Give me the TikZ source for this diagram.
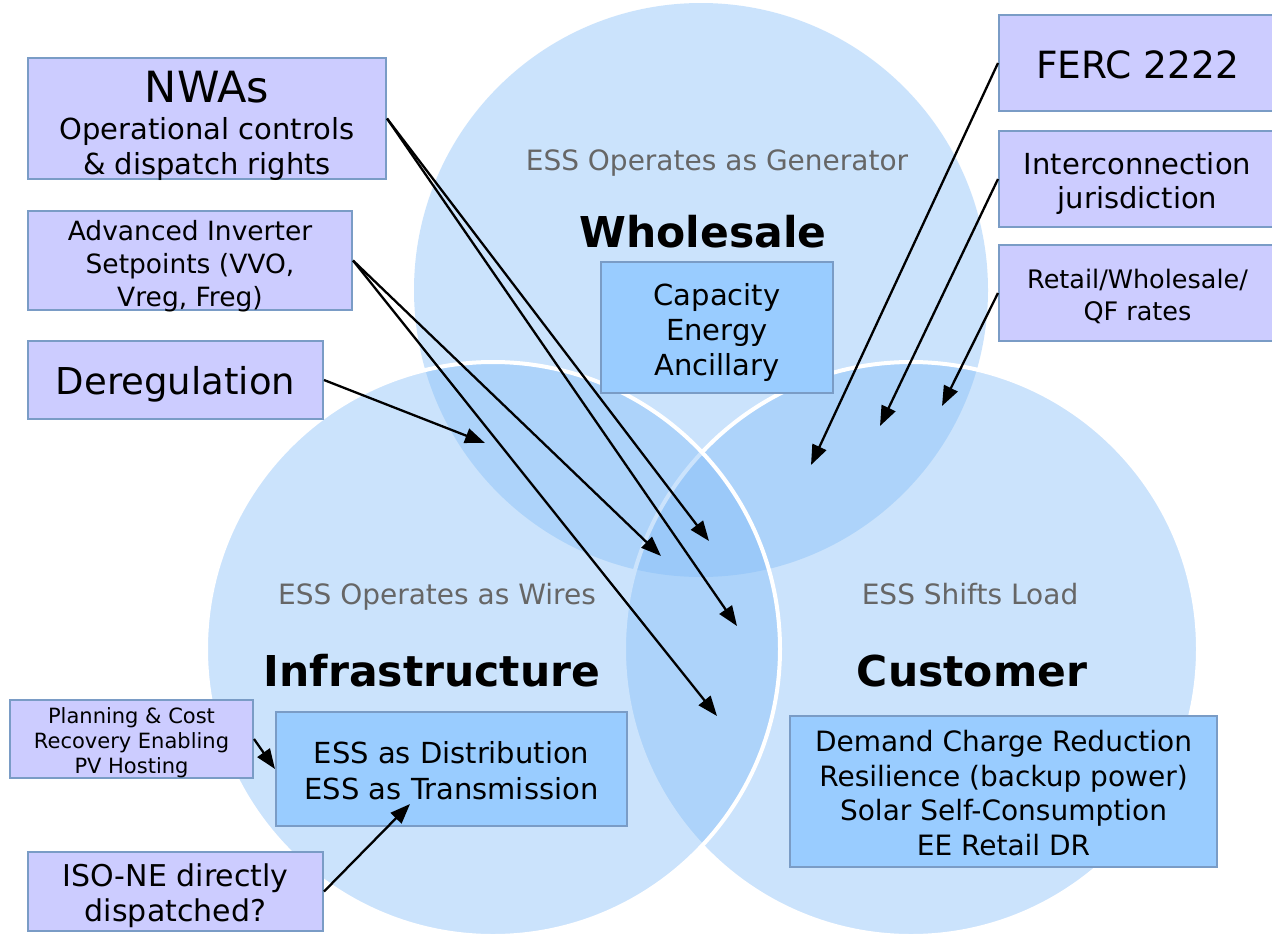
\documentclass[tikz,border=0pt]{standalone}
\usepackage{fontspec}
\setmainfont{DejaVu Sans}
\usetikzlibrary{arrows.meta}
\definecolor{circ}{RGB}{131,189,248}
\definecolor{boxfill}{RGB}{204,204,255}
\definecolor{innerfill}{RGB}{153,204,255}
\definecolor{boxline}{RGB}{122,156,198}
\definecolor{lbl}{RGB}{102,102,102}
\newcommand{\fsz}[2]{\fontsize{#1}{#2}\selectfont}
\newcommand{\tb}[2]{\raisebox{-#1}[\height][\depth]{\begin{tabular}{@{}c@{}}#2\end{tabular}}}
\begin{document}
\begin{tikzpicture}[x=1pt,y=-1pt,
  outerbox/.style={draw=boxline, fill=boxfill, line width=2pt, inner sep=0pt},
  innerbox/.style={draw=boxline, fill=innerfill, line width=2pt, inner sep=0pt},
  arr/.style={line width=2.3pt, -{Triangle[length=20pt,width=15pt]}},
  venn/.style={fill=circ, fill opacity=0.41},
  vennline/.style={draw=white, line width=4pt},
  graylbl/.style={text=lbl, font=\fsz{28}{34}},
  boldlbl/.style={font=\fsz{42.5}{50}\bfseries}
]
\useasboundingbox (0,0) rectangle (1272,938);
\clip (0,0) rectangle (1272,938);
\fill[white] (0,0) rectangle (1272,938);
% circles
\fill[venn] (701,290) circle[radius=287];
\fill[venn] (911,649) circle[radius=287];
\draw[vennline] (911,649) circle[radius=287];
\fill[venn] (493,649) circle[radius=287];
\draw[vennline] (493,649) circle[radius=287];
% labels
\node[graylbl] (gen) at (717,163) {ESS Operates as Generator};
\node[boldlbl] (whole) at (703,232) {Wholesale};
\node[graylbl] (wires) at (437,597) {ESS Operates as Wires};
\node[boldlbl] (infra) at (432,671) {Infrastructure};
\node[graylbl] (shift) at (970,594) {ESS Shifts Load};
\node[boldlbl] (cust) at (972,671) {Customer};
% inner boxes
\node[innerbox, minimum width=232pt, minimum height=131pt, font=\fsz{29}{35}] (cap) at (717,327.5) {\tb{6pt}{Capacity\\Energy\\Ancillary}};
\node[innerbox, minimum width=351pt, minimum height=114pt, font=\fsz{29}{36}] (essd) at (451.5,769) {\tb{5.5pt}{ESS as Distribution\\ESS as Transmission}};
\node[innerbox, minimum width=427pt, minimum height=151pt, font=\fsz{28}{34.7}] (dem) at (1003.5,791.5) {\tb{5pt}{Demand Charge Reduction\\Resilience (backup power)\\Solar Self-Consumption\\EE Retail DR}};
% outer boxes
\node[outerbox, minimum width=358pt, minimum height=121pt, font=\fsz{29}{35}] (nwa) at (207,118.5) {\tb{9.75pt}{{\fsz{43}{45}NWAs}\\[2pt]Operational controls\\\& dispatch rights}};
\node[outerbox, minimum width=324pt, minimum height=97pt, font=\fsz{26.5}{33}] (adv) at (190,260.5) {\tb{6pt}{Advanced Inverter\\Setpoints (VVO,\\Vreg, Freg)}};
\node[outerbox, minimum width=295pt, minimum height=78pt, font=\fsz{37}{42}] (dereg) at (175.5,380) {\tb{6pt}{Deregulation}};
\node[outerbox, minimum width=243pt, minimum height=78pt, font=\fsz{21}{25}] (plan) at (131.5,739) {\tb{4pt}{Planning \& Cost\\Recovery Enabling\\PV Hosting}};
\node[outerbox, minimum width=295pt, minimum height=79pt, font=\fsz{30}{35}] (iso) at (175.5,891.5) {\tb{5pt}{ISO-NE directly\\dispatched?}};
\node[outerbox, minimum width=277pt, minimum height=96pt, font=\fsz{37.5}{42}] (ferc) at (1137.5,63) {\tb{7pt}{FERC 2222}};
\node[outerbox, minimum width=277pt, minimum height=96pt, font=\fsz{29}{34}] (inter) at (1137.5,179) {\tb{6pt}{Interconnection\\jurisdiction}};
\node[outerbox, minimum width=277pt, minimum height=96pt, font=\fsz{25.5}{32}] (retail) at (1137.5,293) {\tb{5.5pt}{Retail/Wholesale/\\QF rates}};
% arrow targets
\coordinate (tNa) at (709,541);
\coordinate (tNb) at (737,626);
\coordinate (tAa) at (661,556);
\coordinate (tAb) at (717,716);
\coordinate (tD) at (485,443);
\coordinate (tF) at (811,465);
\coordinate (tI) at (880,426);
\coordinate (tR) at (942,406);
\coordinate (tIso) at (410,804);
% arrows
\draw[arr] (nwa.east) -- (tNa);
\draw[arr] (nwa.east) -- (tNb);
\draw[arr] (adv.east) -- (tAa);
\draw[arr] (adv.east) -- (tAb);
\draw[arr] (dereg.east) -- (tD);
\draw[arr] (ferc.west) -- (tF);
\draw[arr] (inter.west) -- (tI);
\draw[arr] (retail.west) -- (tR);
\draw[arr] (plan.east) -- (essd.west);
\draw[arr] (iso.east) -- (tIso);
\end{tikzpicture}
\end{document}
